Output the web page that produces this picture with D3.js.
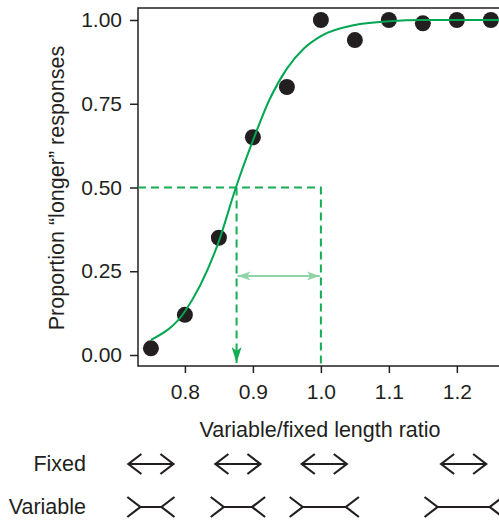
<!DOCTYPE html>
<html>
<head>
<meta charset="utf-8">
<script src="https://cdn.jsdelivr.net/npm/d3@7"></script>
<style>
  body { margin: 0; background: #fff; }
  svg text { font-family: "Liberation Sans", Arial, sans-serif; fill: #231f20; }
</style>
</head>
<body>
<svg id="chart" width="499" height="520"></svg>
<script>
// observed data: length ratio vs proportion "longer"
const ratios = [0.75, 0.8, 0.85, 0.9, 0.95, 1.0, 1.05, 1.1, 1.15, 1.2, 1.25];
const proportions = [0.02, 0.12, 0.35, 0.65, 0.80, 1.00, 0.94, 1.00, 0.99, 1.00, 1.00];

// fitted psychometric curve
const fitX = [0.75, 0.8, 0.85, 0.875, 0.9, 0.925, 0.95, 0.975, 1.0, 1.05, 1.1, 1.15, 1.262];
const fitY = [0.045, 0.13, 0.34, 0.50, 0.64, 0.765, 0.855, 0.915, 0.952, 0.985, 0.996, 1.0, 1.0];

const pse = 0.876;       // point of subjective equality
const standard = 1.0;
const arrowLevel = 0.236; // height of the light double arrow

const yTicks = [0, 0.25, 0.5, 0.75, 1];
const xTicks = [0.8, 0.9, 1.0, 1.1, 1.2];

// stimulus pictures below the axis
const iconRatios = [0.75, 0.878, 1.005, 1.21];
const variableShaft = [0.47, 0.63, 0.96, 1.16]; // shaft length relative to fixed arrow

const ink = "#231f20";
const green = "#00a651";
const dashGreen = "#17ad55";
const lightGreen = "#8fd3a6";

const svg = d3.select("#chart");

const x = d3.scaleLinear().domain([0.731, 1.262]).range([138, 499]);
const y = d3.scaleLinear().domain([0, 1]).range([355, 20]);

const plotTop = 8, plotBottom = 366, plotLeft = 138, plotRight = 499;
const labelSize = "21.5px", tickSize = "21px";

// markers
const defs = svg.append("defs");
defs.append("marker")
  .attr("id", "pseHead")
  .attr("viewBox", "0 0 16 10")
  .attr("refX", 16).attr("refY", 5)
  .attr("markerWidth", 16).attr("markerHeight", 10)
  .attr("markerUnits", "userSpaceOnUse")
  .attr("orient", "auto")
  .append("path")
  .attr("d", "M0,0 L16,5 L0,10 L4,5 Z")
  .attr("fill", dashGreen);

defs.append("marker")
  .attr("id", "lightHead")
  .attr("viewBox", "0 0 13 9")
  .attr("refX", 13).attr("refY", 4.5)
  .attr("markerWidth", 13).attr("markerHeight", 9)
  .attr("markerUnits", "userSpaceOnUse")
  .attr("orient", "auto-start-reverse")
  .append("path")
  .attr("d", "M0,0 L13,4.5 L0,9 L3.5,4.5 Z")
  .attr("fill", lightGreen);

// y axis
const yAxis = svg.append("g")
  .attr("transform", `translate(${plotLeft},0)`)
  .call(d3.axisLeft(y)
    .tickValues(yTicks)
    .tickFormat(d3.format(".2f"))
    .tickSize(8)
    .tickPadding(8));
yAxis.select(".domain").remove();
yAxis.selectAll(".tick line").attr("stroke", ink).attr("stroke-width", 1.5);
yAxis.selectAll(".tick text").style("font-size", tickSize).style("font-family", null).attr("fill", ink);

// x axis
const xAxis = svg.append("g")
  .attr("transform", `translate(0,${plotBottom})`)
  .call(d3.axisBottom(x)
    .tickValues(xTicks)
    .tickFormat(d3.format(".1f"))
    .tickSize(7)
    .tickPadding(11));
xAxis.select(".domain").remove();
xAxis.selectAll(".tick line").attr("stroke", ink).attr("stroke-width", 1.5);
xAxis.selectAll(".tick text").style("font-size", tickSize).style("font-family", null).attr("fill", ink);

// frame: left, bottom and top lines
svg.append("path")
  .attr("d", `M${plotRight},${plotTop} H${plotLeft} V${plotBottom} H${plotRight}`)
  .attr("fill", "none")
  .attr("stroke", ink)
  .attr("stroke-width", 1.5);

// dashed guide lines
const dash = "8,5";
svg.append("path")
  .attr("d", `M${plotLeft},${y(0.5)} H${x(standard)} V${plotBottom}`)
  .attr("fill", "none")
  .attr("stroke", dashGreen)
  .attr("stroke-width", 2)
  .attr("stroke-dasharray", dash);

svg.append("line")
  .attr("x1", x(pse)).attr("x2", x(pse))
  .attr("y1", y(0.5)).attr("y2", plotBottom - 3)
  .attr("stroke", dashGreen)
  .attr("stroke-width", 2)
  .attr("stroke-dasharray", dash)
  .attr("marker-end", "url(#pseHead)");

// light double arrow between PSE and standard
svg.append("line")
  .attr("x1", x(pse) + 1).attr("x2", x(standard) - 1)
  .attr("y1", y(arrowLevel)).attr("y2", y(arrowLevel))
  .attr("stroke", lightGreen)
  .attr("stroke-width", 2)
  .attr("marker-start", "url(#lightHead)")
  .attr("marker-end", "url(#lightHead)");

// data points
svg.selectAll("circle.obs")
  .data(ratios)
  .join("circle")
  .attr("class", "obs")
  .attr("cx", d => x(d))
  .attr("cy", (d, i) => y(proportions[i]))
  .attr("r", 8)
  .attr("fill", ink);

// fitted curve
const fit = fitX.map((d, i) => [d, fitY[i]]);
svg.append("path")
  .datum(fit)
  .attr("fill", "none")
  .attr("stroke", green)
  .attr("stroke-width", 2)
  .attr("d", d3.line()
    .x(d => x(d[0]))
    .y(d => y(d[1]))
    .curve(d3.curveMonotoneX));

// axis titles
svg.append("text")
  .attr("transform", "translate(57,188) rotate(-90)")
  .attr("text-anchor", "middle")
  .attr("dominant-baseline", "central")
  .style("font-size", labelSize)
  .text("Proportion \u201clonger\u201d responses");

svg.append("text")
  .attr("x", 320)
  .attr("y", 430)
  .attr("text-anchor", "middle")
  .attr("dominant-baseline", "central")
  .style("font-size", labelSize)
  .text("Variable/fixed length ratio");

// stimulus row labels
const rowFixed = 464, rowVariable = 507;
svg.append("text")
  .attr("x", 86).attr("y", rowFixed)
  .attr("text-anchor", "end")
  .attr("dominant-baseline", "central")
  .style("font-size", labelSize)
  .text("Fixed");
svg.append("text")
  .attr("x", 86).attr("y", rowVariable)
  .attr("text-anchor", "end")
  .attr("dominant-baseline", "central")
  .style("font-size", labelSize)
  .text("Variable");

// Mueller-Lyer figures
const fixedLen = 45, finW = 13, finH = 10;
const icons = svg.append("g")
  .attr("fill", "none")
  .attr("stroke", ink)
  .attr("stroke-width", 2.2)
  .attr("stroke-linejoin", "miter");

iconRatios.forEach((r, i) => {
  const cx = x(r);
  // fixed: arrowheads pointing out
  const a = cx - fixedLen / 2, b = cx + fixedLen / 2;
  icons.append("path")
    .attr("d", `M${a},${rowFixed} H${b}` +
      ` M${a + finW},${rowFixed - finH} L${a},${rowFixed} L${a + finW},${rowFixed + finH}` +
      ` M${b - finW},${rowFixed - finH} L${b},${rowFixed} L${b - finW},${rowFixed + finH}`);
  // variable: fins pointing out
  const half = variableShaft[i] * fixedLen / 2;
  const p = cx - half, q = cx + half;
  icons.append("path")
    .attr("d", `M${p},${rowVariable} H${q}` +
      ` M${p - finW},${rowVariable - finH} L${p},${rowVariable} L${p - finW},${rowVariable + finH}` +
      ` M${q + finW},${rowVariable - finH} L${q},${rowVariable} L${q + finW},${rowVariable + finH}`);
});
</script>
</body>
</html>
